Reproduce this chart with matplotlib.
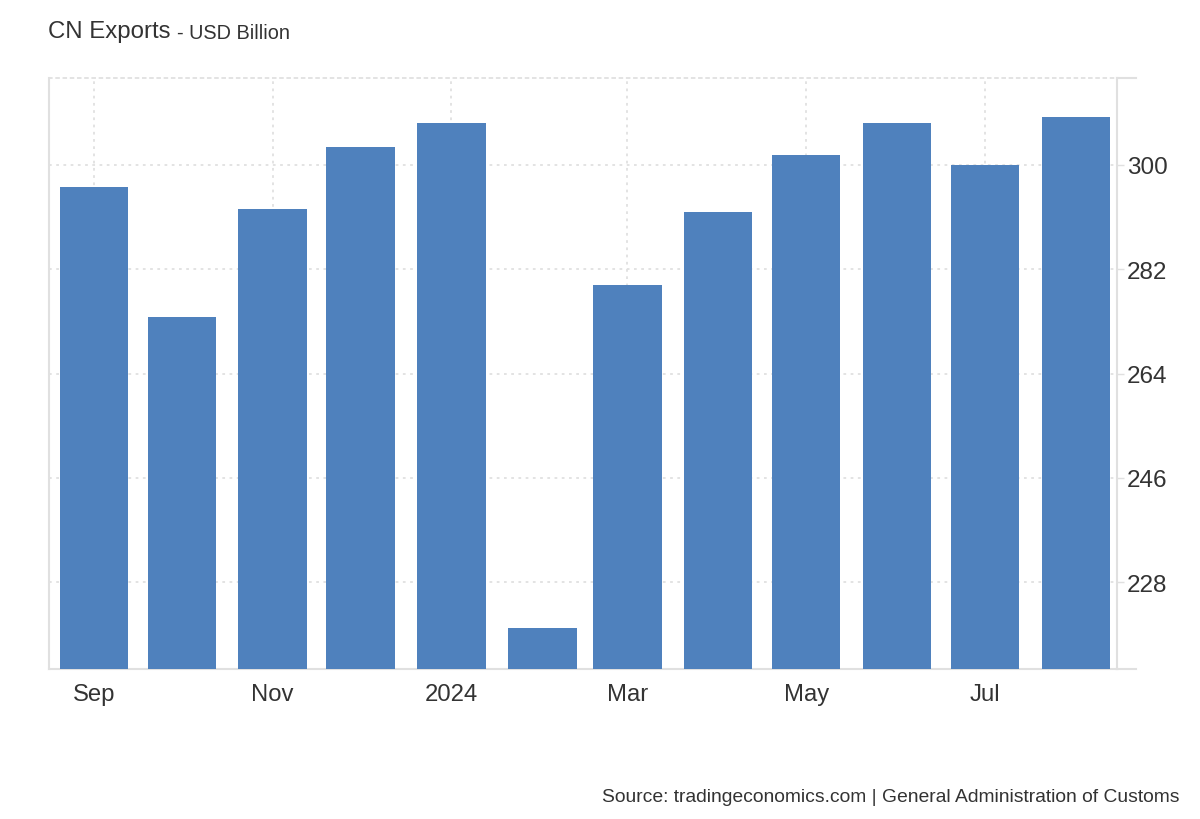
import matplotlib
matplotlib.use("Agg")
import matplotlib.pyplot as plt
import datetime as dt

plt.rcParams["font.family"] = ["Liberation Sans", "DejaVu Sans"]

months = ["2023-09", "2023-10", "2023-11", "2023-12", "2024-01", "2024-02",
          "2024-03", "2024-04", "2024-05", "2024-06", "2024-07", "2024-08"]
exports = [296.2, 273.8, 292.4, 303.1, 307.2, 220.1,
           279.3, 291.9, 301.7, 307.2, 300.0, 308.3]
yticks = [228, 246, 264, 282, 300]
xtick_dates = ["2023-09", "2023-11", "2024-01", "2024-03", "2024-05", "2024-07"]
xtick_labels = ["Sep", "Nov", "2024", "Mar", "May", "Jul"]

dates = [dt.datetime.strptime(m, "%Y-%m") for m in months]
tick_dates = [dt.datetime.strptime(m, "%Y-%m") for m in xtick_dates]

grey = "#e0e0e0"
text_col = "#333333"

fig = plt.figure(figsize=(12, 8.2), dpi=100)
ax = fig.add_axes([0.0408, 0.1829, 0.89, 0.7207])

ax.bar(dates, exports, width=23.3, color="#4f81bd", zorder=3)

ax.set_xlim(dates[0] - dt.timedelta(days=15.3), dt.datetime(2024, 8, 15))
ax.set_ylim(213, 315)

ax.set_xticks(tick_dates)
ax.set_xticklabels(xtick_labels)
ax.set_yticks(yticks)
ax.yaxis.tick_right()
ax.tick_params(axis="x", length=0, pad=10, labelsize=17.2, labelcolor=text_col)
ax.tick_params(axis="y", length=5, width=1, color=grey, pad=2,
               labelsize=17.5, labelcolor=text_col)

ax.grid(True, linestyle=(0, (1.5, 2.5)), color=grey, linewidth=1.3, zorder=0)

for s in ["left", "right", "bottom"]:
    ax.spines[s].set_color(grey)
    ax.spines[s].set_linewidth(1.5)
ax.spines["top"].set_color(grey)
ax.spines["top"].set_linestyle((0, (1.5, 2.5)))
ax.spines["top"].set_linewidth(1.3)

# axis lines running past the right spine
ax.plot([1, 1.018], [0, 0], transform=ax.transAxes, color=grey, lw=1.5, clip_on=False)
ax.plot([1, 1.018], [1, 1], transform=ax.transAxes, color=grey, lw=1.5, clip_on=False)

fig.text(0.04, 0.961, "CN Exports", fontsize=17.3, color=text_col, va="center")
fig.text(0.1475, 0.959, "- USD Billion", fontsize=14.3, color=text_col, va="center")
fig.text(0.983, 0.027, "Source: tradingeconomics.com | General Administration of Customs",
         fontsize=13.9, color=text_col, ha="right", va="center")

fig.savefig("out.png", dpi=100)
